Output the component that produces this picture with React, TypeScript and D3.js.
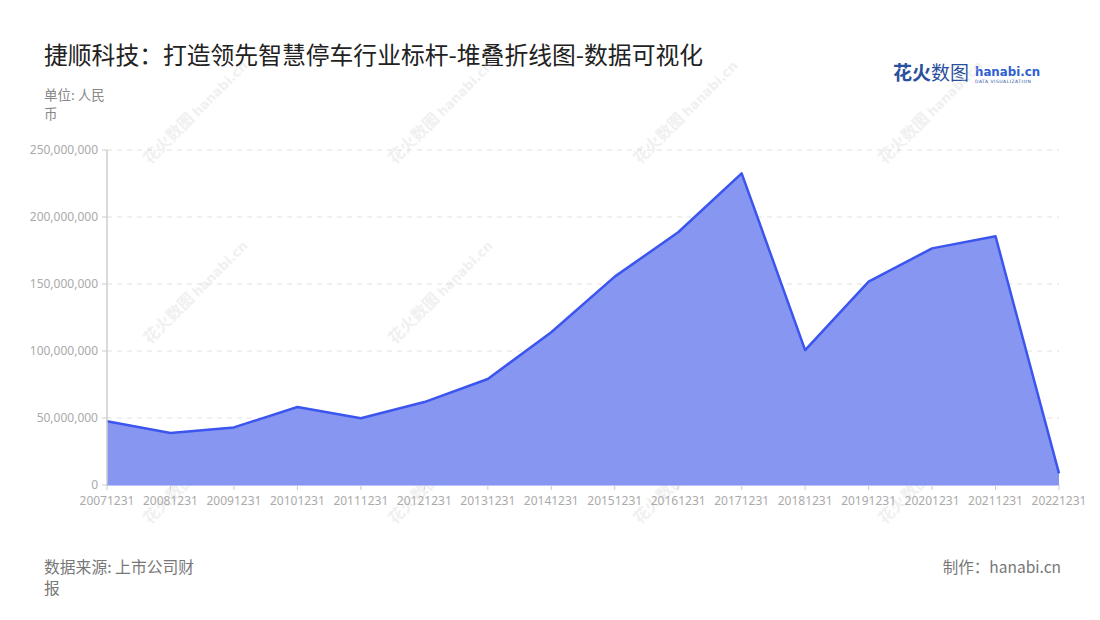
import React from "react";
import * as d3 from "d3";

const categories = ["20071231","20081231","20091231","20101231","20111231","20121231","20131231","20141231","20151231","20161231","20171231","20181231","20191231","20201231","20211231","20221231"];
const values = [47.6e6, 38.8e6, 43.0e6, 58.2e6, 49.8e6, 61.9e6, 79.1e6, 114e6, 155.5e6, 188.6e6, 232.6e6, 100.7e6, 151.7e6, 176.6e6, 185.6e6, 8.7e6];
const yTicks = [0, 50e6, 100e6, 150e6, 200e6, 250e6];
const title = "捷顺科技：打造领先智慧停车行业标杆-堆叠折线图-数据可视化";
const unitLines = ["单位: 人民", "币"];
const sourceLines = ["数据来源: 上市公司财", "报"];
const credit = "制作：hanabi.cn";

const W = 1100, H = 620;
const left = 107, right = 1059, top = 150, bottom = 485;
const FONT = "'Noto Sans CJK SC', 'Noto Sans', sans-serif";

export default function App() {
  const x = d3.scalePoint<string>().domain(categories).range([left, right]);
  const y = d3.scaleLinear().domain([0, 250e6]).range([bottom, top]);
  const fmt = d3.format(",");
  const pts = categories.map((c, i) => [x(c) as number, y(values[i])] as [number, number]);
  const area = d3.area<[number, number]>().x(d => d[0]).y0(y(0)).y1(d => d[1])(pts) || "";
  const line = d3.line<[number, number]>().x(d => d[0]).y(d => d[1])(pts) || "";

  const wmX = [150, 395, 640, 885];
  const wmY = [165, 345, 525];

  return (
    <svg width={W} height={H} style={{ position: "absolute", left: 0, top: 0, fontFamily: FONT }}>
      <rect width={W} height={H} fill="#fff" />
      <text x={44} y={64} fontSize={23.8} fill="#222">{title}</text>
      {unitLines.map((t, i) => (
        <text key={i} x={44} y={100 + i * 19} fontSize={13.5} fill="#888">{t}</text>
      ))}
      {/* logo */}
      <g>
        <text x={893} y={80} fontSize={19} fontWeight={700} fill="#2a4f9e">花火<tspan fontWeight={400}>数图</tspan></text>
        <text x={975} y={76} fontSize={11.8} fontWeight={700} fill="#2f5fd0" fontFamily="'DejaVu Sans', sans-serif">hanabi.cn</text>
        <text x={975} y={83} fontSize={4.5} fill="#2a4f9e" fontFamily="'DejaVu Sans', sans-serif" letterSpacing={0.5}>DATA VISUALIZATION</text>
      </g>
      {/* grid */}
      {yTicks.filter(t => t > 0).map(t => (
        <line key={t} x1={left} x2={right} y1={y(t)} y2={y(t)} stroke="#e0e0e0" strokeDasharray="5,5" />
      ))}
      {/* watermarks */}
      {wmY.map(wy => wmX.map(wx => (
        <g key={wx + "-" + wy} transform={`translate(${wx},${wy}) rotate(-45)`} opacity={0.3}>
          <text x={0} y={0} fontSize={16} fill="#cfcfcf" fontWeight={700}>花火数图 <tspan fontFamily="'DejaVu Sans', sans-serif" fontSize={13}>hanabi.cn</tspan></text>
        </g>
      )))}
      {/* area */}
      <path d={area} fill="#8797f1" />
      <path d={line} fill="none" stroke="#3b55ee" strokeWidth={2.5} strokeLinejoin="round" />
      {/* axes */}
      <line x1={left} x2={left} y1={top} y2={bottom} stroke="#ccc" strokeWidth={1.5} />
      <line x1={left} x2={right} y1={bottom} y2={bottom} stroke="#7d8ff0" strokeWidth={1} />
      {yTicks.map(t => (
        <g key={t}>
          <line x1={left - 5} x2={left} y1={y(t)} y2={y(t)} stroke="#ccc" />
          <text x={left - 9} y={y(t)} dy="0.35em" textAnchor="end" fontSize={12} fill="#aaa" fontFamily="'Noto Sans', sans-serif">{fmt(t)}</text>
        </g>
      ))}
      {categories.map(c => (
        <g key={c}>
          <line x1={x(c)} x2={x(c)} y1={bottom} y2={bottom + 5} stroke="#ccc" />
          <text x={x(c)} y={bottom + 20} textAnchor="middle" fontSize={12} fill="#aaa" fontFamily="'Noto Sans', sans-serif">{c}</text>
        </g>
      ))}
      {sourceLines.map((t, i) => (
        <text key={i} x={44} y={573 + i * 21} fontSize={15.8} fill="#777">{t}</text>
      ))}
      <text x={1061} y={573} textAnchor="end" fontSize={15.5} fill="#777">{credit}</text>
    </svg>
  );
}
